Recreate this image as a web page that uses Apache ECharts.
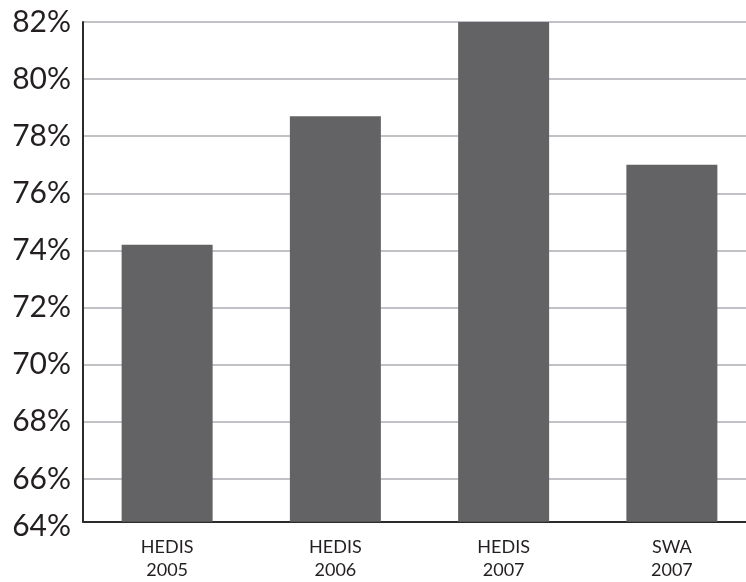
<!DOCTYPE html>
<html>
<head>
<meta charset="utf-8">
<script src="https://cdn.jsdelivr.net/npm/echarts@6/dist/echarts.min.js"></script>
<style>
  html, body { margin: 0; padding: 0; background: #ffffff; }
  #chart { width: 746px; height: 582px; }
</style>
</head>
<body>
<div id="chart"></div>
<script>
// Categories along the bottom
const categories = ['HEDIS\n2005', 'HEDIS\n2006', 'HEDIS\n2007', 'SWA\n2007'];
// Rate for each category, in percent
const rates = [74.2, 78.7, 82, 77];
// Gridline positions on the value axis and their labels
const tickValues = [64.5, 66, 68, 70, 72, 74, 76, 78, 80, 82];
const tickLabels = ['64%', '66%', '68%', '70%', '72%', '74%', '76%', '78%', '80%', '82%'];

const textColor = '#231f20';
const fontFamily = 'Lato, "Noto Sans", sans-serif';

const chart = echarts.init(document.getElementById('chart'), null, { renderer: 'canvas' });

chart.setOption({
  animation: false,
  backgroundColor: '#ffffff',
  grid: {
    left: 83,
    top: 22,
    height: 499.7,
    width: 673,
    containLabel: false,
    outerBoundsMode: 'none'
  },
  xAxis: {
    type: 'category',
    data: categories,
    axisLine: { show: true, lineStyle: { color: '#2b2b2b', width: 2 } },
    axisTick: { show: false },
    axisLabel: {
      color: textColor,
      fontFamily: fontFamily,
      fontSize: 18,
      lineHeight: 23,
      margin: 14
    },
    splitLine: { show: false }
  },
  yAxis: {
    type: 'value',
    min: 64.5,
    max: 82,
    axisLine: { show: true, lineStyle: { color: '#2b2b2b', width: 2 } },
    axisTick: { show: false, customValues: tickValues },
    axisLabel: {
      customValues: tickValues,
      color: textColor,
      fontFamily: fontFamily,
      fontSize: 30,
      margin: 12,
      formatter: function (value) {
        const i = tickValues.indexOf(value);
        if (i < 0) return '';
        // the bottom label sits a little below the axis line
        return i === 0 ? '{low|' + tickLabels[i] + '}' : tickLabels[i];
      },
      rich: {
        low: {
          color: textColor,
          fontFamily: fontFamily,
          fontSize: 30,
          padding: [10, 0, 0, 0]
        }
      }
    },
    splitLine: { show: true, lineStyle: { color: '#c2c1c6', width: 2 } }
  },
  series: [{
    type: 'bar',
    data: rates,
    barWidth: 91,
    itemStyle: { color: '#636365' }
  }]
});
</script>
</body>
</html>
